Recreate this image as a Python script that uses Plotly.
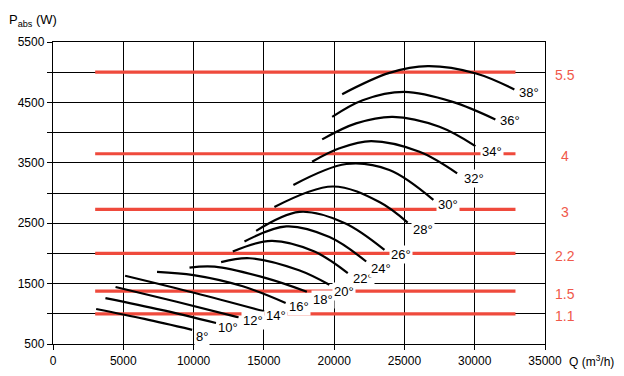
import plotly.graph_objects as go

# ---- data ----
angles = ["8°", "10°", "12°", "14°", "16°", "18°", "20°", "22°", "24°", "26°", "28°", "30°", "32°", "34°", "36°", "38°"]

curve_q = [
    [3070, 6500, 9900],
    [3730, 7700, 11600],
    [4450, 8800, 13200],
    [5130, 10100, 15040],
    [7400, 10000, 13500, 16550],
    [9710, 11500, 15160, 18060],
    [11960, 13980, 17500, 19660],
    [12790, 15540, 18600, 20970],
    [13620, 16600, 19670, 22280],
    [14450, 17530, 20730, 23580],
    [15750, 19900, 23220, 25230],
    [17100, 20870, 23930, 27060],
    [18430, 20380, 22630, 26070, 28750],
    [19150, 21560, 24170, 27490, 30050],
    [19860, 22030, 25000, 28430, 31470],
    [20570, 23930, 26660, 30100, 32820],
]
curve_p = [
    [1080, 915, 735],
    [1260, 1065, 848],
    [1443, 1200, 940],
    [1630, 1345, 1040],
    [1695, 1640, 1455, 1180],
    [1765, 1780, 1590, 1365],
    [1855, 1920, 1720, 1480],
    [2030, 2208, 2030, 1674],
    [2196, 2447, 2270, 1866],
    [2373, 2687, 2505, 2059],
    [2769, 3108, 2850, 2510],
    [3133, 3480, 3380, 2885],
    [3518, 3740, 3860, 3683, 3326],
    [3888, 4152, 4261, 4096, 3777],
    [4261, 4537, 4674, 4509, 4218],
    [4636, 4988, 5099, 4978, 4714],
]
label_q = [10630, 12430, 14210, 15870, 17480, 19190, 20730, 22030, 23340, 24760, 26350, 28080, 29980, 31240, 32520, 33840]
label_p = [622, 765, 891, 973, 1122, 1244, 1370, 1591, 1757, 1975, 2389, 2802, 3243, 3683, 4195, 4657]

motor_kw = ["5.5", "4", "3", "2.2", "1.5", "1.1"]
motor_p = [5000, 3650, 2730, 2000, 1375, 1000]
motor_q_start = 3000
motor_q_end = 32900

FONT = "Liberation Sans Narrow, Arial Narrow, Liberation Sans, Arial, sans-serif"
RED = "#EF4A3C"
RED_TXT = "#F0584A"

fig = go.Figure()

for p in motor_p:
    fig.add_trace(go.Scatter(x=[motor_q_start, motor_q_end], y=[p, p], mode="lines",
                             line=dict(color=RED, width=3.2), hoverinfo="skip", showlegend=False))

for q, p in zip(curve_q, curve_p):
    fig.add_trace(go.Scatter(x=q, y=p, mode="lines",
                             line=dict(color="black", width=2.2, shape="spline", smoothing=1.0),
                             hoverinfo="skip", showlegend=False))

for a, q, p in zip(angles, label_q, label_p):
    fig.add_annotation(x=q, y=p, xref="x", yref="y", text=a, showarrow=False,
                       font=dict(family=FONT, size=13, color="black"),
                       bgcolor="white", borderpad=1, xanchor="center", yanchor="middle")

for k, p in zip(motor_kw, motor_p):
    fig.add_annotation(x=1.04, y=p, xref="paper", yref="y", text=k, showarrow=False,
                       font=dict(family=FONT, size=14, color=RED_TXT),
                       xanchor="center", yanchor="middle", yshift=-2.5)

fig.add_annotation(x=-0.093, y=1.072, xref="paper", yref="paper", text="P<sub>abs</sub> (W)",
                   showarrow=False, font=dict(family=FONT, size=13, color="black"),
                   xanchor="left", yanchor="middle")
fig.add_annotation(x=1.044, y=-0.055, xref="paper", yref="paper", text="Q (m<sup>3</sup>/h)",
                   showarrow=False, font=dict(family=FONT, size=12, color="black"),
                   xanchor="left", yanchor="middle")

fig.update_xaxes(range=[0, 35000], tickmode="linear", tick0=0, dtick=5000, tickformat="d",
                 showgrid=True, gridcolor="black", gridwidth=1.2, automargin=False,
                 showline=True, linecolor="black", linewidth=1.4, mirror=True,
                 ticks="outside", ticklen=5, tickcolor="black", tickwidth=1.2,
                 zeroline=False, tickfont=dict(family=FONT, size=12, color="black"))
fig.update_yaxes(range=[500, 5500], tickmode="linear", tick0=500, dtick=1000, tickformat="d",
                 minor=dict(tick0=500, dtick=500, showgrid=True, gridcolor="black", gridwidth=1.2,
                            ticks="outside", ticklen=5, tickcolor="black", tickwidth=1.2),
                 showgrid=True, gridcolor="black", gridwidth=1.2, automargin=False,
                 showline=True, linecolor="black", linewidth=1.4, mirror=True,
                 ticks="outside", ticklen=5, tickcolor="black", tickwidth=1.2,
                 zeroline=False, tickfont=dict(family=FONT, size=12, color="black"))

fig.update_layout(width=624, height=376, margin=dict(l=53, r=79, t=42, b=32, autoexpand=False),
                  plot_bgcolor="white", paper_bgcolor="white", showlegend=False)

fig.write_html("out.html", config={"displayModeBar": False},
               post_script="document.body.style.margin='0px';document.body.style.padding='0px';")
